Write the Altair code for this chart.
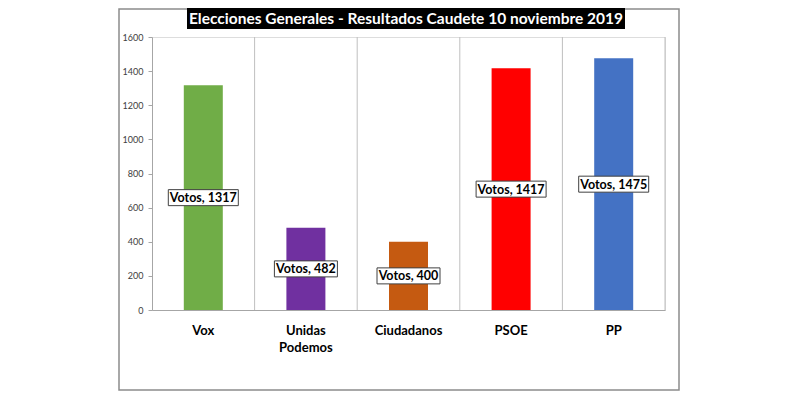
import altair as alt
import pandas as pd

partidos = ["Vox", "Unidas Podemos", "Ciudadanos", "PSOE", "PP"]
votos = [1317, 482, 400, 1417, 1475]
colores = ["#70AD47", "#7030A0", "#C55A11", "#FF0000", "#4472C4"]
titulo = "Elecciones Generales - Resultados Caudete 10 noviembre 2019"
y_ticks = [0, 200, 400, 600, 800, 1000, 1200, 1400, 1600]

df = pd.DataFrame({"partido": partidos, "votos": votos})
df["label"] = ["Votos, " + str(v) for v in votos]

W, H = 513, 273
FONT = "Lato"

x_scale = alt.Scale(paddingInner=0, paddingOuter=0)
y_scale = alt.Scale(domain=[0, 1600], nice=False)

x_axis = alt.Axis(
    title=None,
    ticks=False,
    labelAngle=0,
    labelAlign="center",
    labelFont=FONT,
    labelFontSize=13,
    labelFontWeight="bold",
    labelColor="#000000",
    labelPadding=14,
    labelLineHeight=17,
    labelExpr="datum.label == 'Unidas Podemos' ? ['Unidas', 'Podemos'] : datum.label",
    domainColor="#A6A6A6",
    grid=False,
)
y_axis = alt.Axis(
    title=None,
    values=y_ticks,
    format="d",
    labelOverlap=False,
    grid=False,
    tickSize=4,
    tickColor="#A6A6A6",
    domainColor="#A6A6A6",
    labelFont=FONT,
    labelFontSize=9,
    labelColor="#404040",
    labelPadding=5,
)

base = alt.Chart(df)
one = base.transform_filter("datum.partido == 'Vox'")

border = one.mark_rect(fillOpacity=0, stroke="#8C8C8C", strokeWidth=1.5, clip=False).encode(
    x=alt.value(-33), x2=alt.value(527), y=alt.value(-28), y2=alt.value(353)
)

title_box = one.mark_rect(fill="#000000", clip=False).encode(
    x=alt.value(35), x2=alt.value(473), y=alt.value(-29), y2=alt.value(-8)
)

title_text = one.mark_text(
    font=FONT, fontSize=15.5, fontWeight="bold", color="#FFFFFF",
    align="center", baseline="middle", clip=False
).encode(
    x=alt.value(254), y=alt.value(-18), text=alt.value(titulo)
)

grid = base.mark_rule(color="#BFBFBF", strokeWidth=1).encode(
    x=alt.X("partido:N", sort=partidos, scale=x_scale, bandPosition=1, axis=x_axis),
    y=alt.datum(1600, scale=y_scale, axis=y_axis),
    y2=alt.datum(0),
)

bars = base.mark_bar(size=39).encode(
    x=alt.X("partido:N", sort=partidos, scale=x_scale, axis=x_axis),
    y=alt.Y("votos:Q", scale=y_scale, axis=y_axis),
    color=alt.Color(
        "partido:N",
        scale=alt.Scale(domain=partidos, range=colores),
        legend=None,
    ),
)

label_box = base.transform_calculate(
    mid="datum.votos / 2", boxw="7 * length(datum.label) - 7"
).mark_bar(fill="#FFFFFF", stroke="#404040", strokeWidth=1, yOffset=-8, y2Offset=8).encode(
    x=alt.X("partido:N", sort=partidos, scale=x_scale, axis=x_axis),
    y=alt.Y("mid:Q", scale=y_scale, axis=y_axis),
    y2="mid:Q",
    size=alt.Size("boxw:Q", scale=None, legend=None),
)

label_text = base.transform_calculate(mid="datum.votos / 2").mark_text(
    font=FONT, fontSize=12.5, fontWeight="bold", color="#000000", baseline="middle", dy=0.5
).encode(
    x=alt.X("partido:N", sort=partidos, scale=x_scale, axis=x_axis),
    y=alt.Y("mid:Q", scale=y_scale, axis=y_axis),
    text="label:N",
)

chart = (
    alt.layer(border, title_box, title_text, grid, bars, label_box, label_text)
    .properties(
        width=W,
        height=H,
        padding={"left": 144, "top": 29, "right": 20, "bottom": 82},
        autosize=alt.AutoSizeParams(type="none"),
    )
    .configure_view(stroke=None)
    .configure(background="#FFFFFF")
)

chart.save("out.html", embed_options={"renderer": "svg", "actions": False})
